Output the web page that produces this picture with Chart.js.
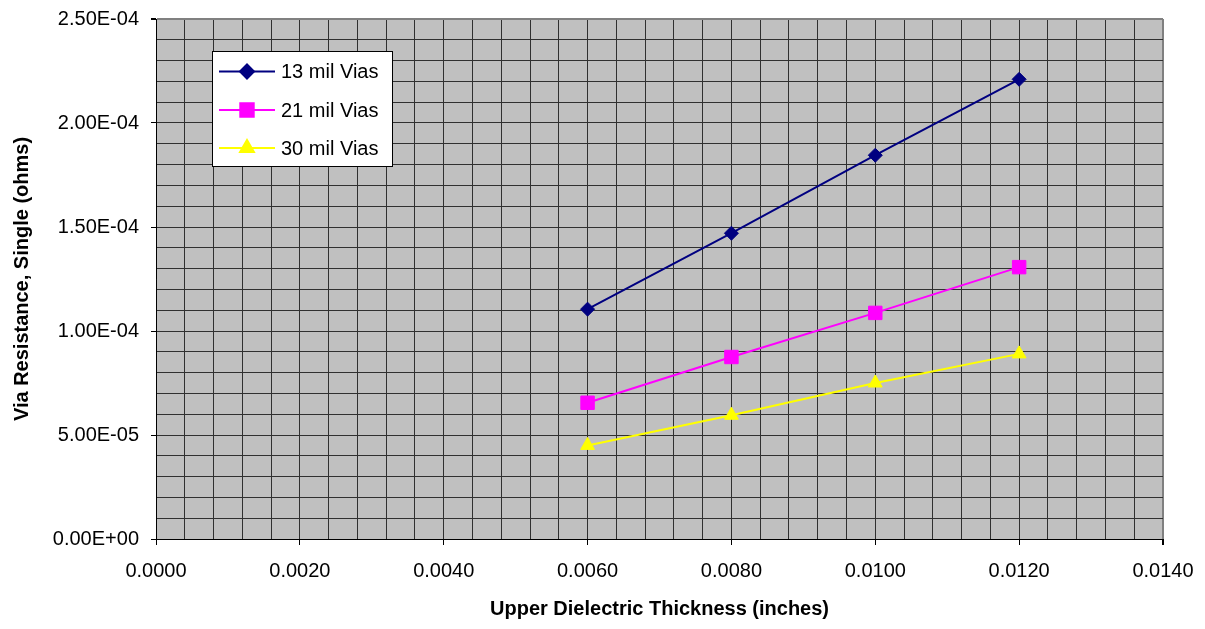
<!DOCTYPE html>
<html>
<head>
<meta charset="utf-8">
<title>Via Resistance</title>
<script src="https://cdn.jsdelivr.net/npm/chart.js@4/dist/chart.umd.min.js"></script>
<style>
  html, body { margin: 0; padding: 0; background: #fff; }
  #chart { display: block; }
</style>
</head>
<body>
<canvas id="chart" width="1205" height="629"></canvas>
<script>
// data
const thickness = [0.006, 0.008, 0.010, 0.012];
const via13 = [1.105e-4, 1.47e-4, 1.845e-4, 2.21e-4];
const via21 = [6.55e-5, 8.75e-5, 1.087e-4, 1.307e-4];
const via30 = [4.5e-5, 5.95e-5, 7.5e-5, 8.9e-5];
const seriesNames = ['13 mil Vias', '21 mil Vias', '30 mil Vias'];

const FONT = 'Liberation Sans, Arial, sans-serif';

function pts(ys) {
    return thickness.map((x, i) => ({ x: x, y: ys[i] }));
}

// 2.50E-04 style labels
function sci(v) {
    if (Math.abs(v) < 1e-12) return '0.00E+00';
    const e = Math.floor(Math.log10(Math.abs(v)) + 1e-9);
    const m = v / Math.pow(10, e);
    const sign = e < 0 ? '-' : '+';
    const ex = String(Math.abs(e)).padStart(2, '0');
    return m.toFixed(2) + 'E' + sign + ex;
}

function isMajor(v, step) {
    const r = v / step;
    return Math.abs(r - Math.round(r)) < 1e-6;
}

// grey plot area
const plotBg = {
    id: 'plotBg',
    beforeDraw(chart) {
        const a = chart.chartArea;
        const ctx = chart.ctx;
        ctx.save();
        ctx.fillStyle = '#c0c0c0';
        ctx.fillRect(a.left, a.top, a.right - a.left, a.bottom - a.top);
        ctx.restore();
    }
};

// boxed legend inside the plot
const boxLegend = {
    id: 'boxLegend',
    afterDraw(chart) {
        const ctx = chart.ctx;
        const bx = 212.5, by = 51.5, bw = 180, bh = 115;
        ctx.save();
        ctx.fillStyle = '#ffffff';
        ctx.fillRect(bx, by, bw, bh);
        ctx.strokeStyle = '#000000';
        ctx.lineWidth = 1;
        ctx.strokeRect(bx, by, bw, bh);
        const rows = [71.5, 110, 148];
        chart.data.datasets.forEach((ds, i) => {
            const y = rows[i];
            ctx.strokeStyle = ds.borderColor;
            ctx.lineWidth = ds.borderWidth;
            ctx.beginPath();
            ctx.moveTo(219, y);
            ctx.lineTo(275, y);
            ctx.stroke();
            ctx.fillStyle = ds.backgroundColor;
            ctx.strokeStyle = ds.borderColor;
            Chart.helpers.drawPoint(ctx, {
                pointStyle: ds.pointStyle,
                radius: ds.pointRadius,
                rotation: 0,
                borderWidth: 1
            }, 247, y);
            ctx.fillStyle = '#000';
            ctx.font = '20px ' + FONT;
            ctx.textBaseline = 'middle';
            ctx.textAlign = 'left';
            ctx.fillText(ds.label, 281, y + 1);
        });
        ctx.restore();
    }
};

new Chart(document.getElementById('chart'), {
    type: 'line',
    data: {
        datasets: [
            {
                label: seriesNames[0],
                data: pts(via13),
                borderColor: '#000080',
                backgroundColor: '#000080',
                borderWidth: 2,
                pointStyle: 'rectRot',
                pointRadius: 7,
                pointBorderWidth: 1
            },
            {
                label: seriesNames[1],
                data: pts(via21),
                borderColor: '#ff00ff',
                backgroundColor: '#ff00ff',
                borderWidth: 2,
                pointStyle: 'rect',
                pointRadius: 9.5,
                pointBorderWidth: 1
            },
            {
                label: seriesNames[2],
                data: pts(via30),
                borderColor: '#ffff00',
                backgroundColor: '#ffff00',
                borderWidth: 2,
                pointStyle: 'triangle',
                pointRadius: 8,
                pointBorderWidth: 1
            }
        ]
    },
    options: {
        responsive: false,
        animation: false,
        devicePixelRatio: 1,
        layout: { padding: { top: 19, right: 42, left: 0, bottom: 0 } },
        plugins: {
            legend: { display: false },
            tooltip: { enabled: false }
        },
        scales: {
            x: {
                type: 'linear',
                min: 0,
                max: 0.014,
                afterFit(s) {
                    s.height = 90;
                    s.paddingLeft = 0;
                    s.paddingRight = 0;
                },
                border: { color: '#000', width: 1 },
                grid: {
                    color: c => (c.tick && c.tick.value > 0.01399) ? '#808080' : '#303030',
                    lineWidth: c => (c.tick && c.tick.value > 0.01399) ? 2 : 1,
                    tickLength: 6,
                    tickColor: c => (c.tick && isMajor(c.tick.value, 0.002)) ? '#000' : 'rgba(0,0,0,0)'
                },
                ticks: {
                    stepSize: 0.0004,
                    maxTicksLimit: 100,
                    autoSkip: false,
                    maxRotation: 0,
                    padding: 14,
                    color: '#000',
                    font: { family: FONT, size: 20 },
                    callback: v => isMajor(v, 0.002) ? v.toFixed(4) : ''
                },
                title: {
                    display: true,
                    text: 'Upper Dielectric Thickness (inches)',
                    color: '#000',
                    font: { family: FONT, size: 20, weight: 'bold' },
                    padding: { top: 0, bottom: 8 }
                }
            },
            y: {
                type: 'linear',
                min: 0,
                max: 2.5e-4,
                afterFit(s) {
                    s.width = 156;
                    s.paddingTop = 0;
                    s.paddingBottom = 0;
                },
                border: { color: '#000', width: 1 },
                grid: {
                    color: c => (c.tick && c.tick.value > 2.499e-4) ? '#808080' : '#303030',
                    lineWidth: c => (c.tick && c.tick.value > 2.499e-4) ? 2 : 1,
                    tickLength: 5,
                    tickColor: c => (c.tick && isMajor(c.tick.value, 5e-5)) ? '#000' : 'rgba(0,0,0,0)'
                },
                ticks: {
                    stepSize: 1e-5,
                    maxTicksLimit: 100,
                    autoSkip: false,
                    padding: 12,
                    color: '#000',
                    font: { family: FONT, size: 20 },
                    callback: v => isMajor(v, 5e-5) ? sci(v) : ''
                },
                title: {
                    display: true,
                    text: 'Via Resistance, Single (ohms)',
                    color: '#000',
                    font: { family: FONT, size: 20, weight: 'bold' },
                    padding: { top: 10, bottom: 0 }
                }
            }
        }
    },
    plugins: [plotBg, boxLegend]
});
</script>
</body>
</html>
